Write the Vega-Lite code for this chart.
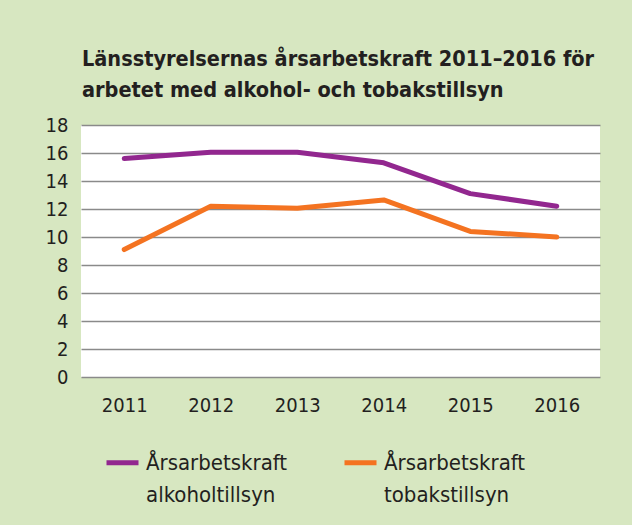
{
  "$schema": "https://vega.github.io/schema/vega-lite/v6.json",
  "width": 519,
  "height": 252,
  "autosize": {"type": "none"},
  "padding": {"left": 81, "top": 125, "right": 32, "bottom": 148},
  "background": "#d7e7c1",
  "title": {
    "text": ["Länsstyrelsernas årsarbetskraft 2011–2016 för", "arbetet med alkohol- och tobakstillsyn"],
    "anchor": "start",
    "frame": "group",
    "dx": 1,
    "offset": 14,
    "font": "DejaVu Sans Condensed",
    "fontSize": 21.5,
    "fontWeight": "bold",
    "color": "#231f20",
    "lineHeight": 31
  },
  "data": {
    "values": [
      {"year": "2011", "serie": "Årsarbetskraft alkoholtillsyn", "value": 15.6},
      {"year": "2012", "serie": "Årsarbetskraft alkoholtillsyn", "value": 16.05},
      {"year": "2013", "serie": "Årsarbetskraft alkoholtillsyn", "value": 16.05},
      {"year": "2014", "serie": "Årsarbetskraft alkoholtillsyn", "value": 15.3},
      {"year": "2015", "serie": "Årsarbetskraft alkoholtillsyn", "value": 13.1},
      {"year": "2016", "serie": "Årsarbetskraft alkoholtillsyn", "value": 12.2},
      {"year": "2011", "serie": "Årsarbetskraft tobakstillsyn", "value": 9.1},
      {"year": "2012", "serie": "Årsarbetskraft tobakstillsyn", "value": 12.2},
      {"year": "2013", "serie": "Årsarbetskraft tobakstillsyn", "value": 12.05},
      {"year": "2014", "serie": "Årsarbetskraft tobakstillsyn", "value": 12.65},
      {"year": "2015", "serie": "Årsarbetskraft tobakstillsyn", "value": 10.4},
      {"year": "2016", "serie": "Årsarbetskraft tobakstillsyn", "value": 10.0}
    ]
  },
  "mark": {"type": "line", "strokeWidth": 5, "strokeCap": "round", "strokeJoin": "round"},
  "encoding": {
    "x": {
      "field": "year",
      "type": "ordinal",
      "scale": {"type": "point", "padding": 0.5},
      "axis": {
        "title": null,
        "labelAngle": 0,
        "ticks": false,
        "domain": false,
        "grid": false,
        "labelPadding": 18,
        "labelFontSize": 20,
        "labelFont": "DejaVu Sans Condensed",
        "labelColor": "#231f20"
      }
    },
    "y": {
      "field": "value",
      "type": "quantitative",
      "scale": {"domain": [0, 18], "nice": false},
      "axis": {
        "title": null,
        "values": [0, 2, 4, 6, 8, 10, 12, 14, 16, 18],
        "ticks": false,
        "domain": false,
        "labelPadding": 13,
        "labelFontSize": 20,
        "labelFont": "DejaVu Sans Condensed",
        "labelColor": "#231f20",
        "gridColor": "#8a8a8a",
        "gridWidth": 1.5
      }
    },
    "color": {
      "field": "serie",
      "type": "nominal",
      "scale": {"domain": ["Årsarbetskraft alkoholtillsyn", "Årsarbetskraft tobakstillsyn"], "range": ["#92278f", "#f47321"]},
      "legend": {
        "title": null,
        "orient": "none",
        "legendX": 23,
        "legendY": 319,
        "direction": "horizontal",
        "columns": 2,
        "columnPadding": 46,
        "symbolType": "stroke",
        "symbolSize": 1024,
        "symbolStrokeWidth": 5,
        "labelFont": "DejaVu Sans Condensed",
        "labelFontSize": 22,
        "labelColor": "#231f20",
        "labelBaseline": "middle",
        "labelOffset": 5,
        "labelLimit": 300,
        "labelExpr": "split(datum.label, ' ')"
      }
    }
  },
  "config": {
    "view": {"fill": "white", "stroke": null},
    "style": {"guide-label": {"lineHeight": 32}}
  }
}
